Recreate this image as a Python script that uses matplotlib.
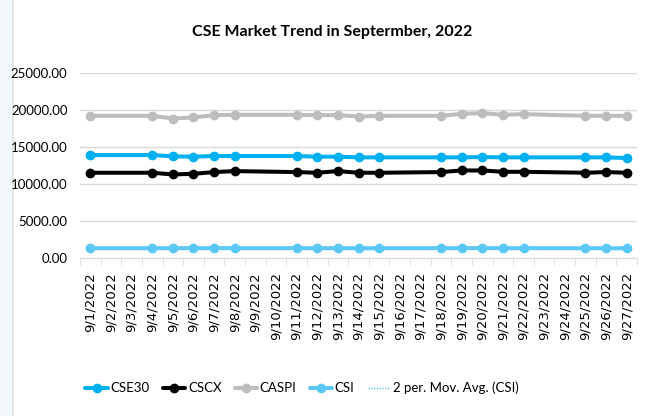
import numpy as np
import pandas as pd
import matplotlib
matplotlib.use("Agg")
import matplotlib.pyplot as plt
from matplotlib.lines import Line2D

# trading days in September 2022 (day of month)
days = [1, 4, 5, 6, 7, 8, 11, 12, 13, 14, 15, 18, 19, 20, 21, 22, 25, 26, 27]
cse30 = [13910, 13910, 13740, 13690, 13780, 13780, 13780, 13690, 13690, 13600,
         13600, 13600, 13600, 13640, 13600, 13600, 13600, 13600, 13510]
cscx = [11520, 11520, 11290, 11380, 11610, 11740, 11610, 11520, 11740, 11520,
        11520, 11610, 11830, 11830, 11650, 11650, 11520, 11610, 11520]
caspi = [19210, 19210, 18850, 18990, 19300, 19350, 19350, 19300, 19300, 19120,
         19210, 19210, 19480, 19570, 19350, 19440, 19210, 19210, 19210]
csi = [1330, 1330, 1330, 1330, 1330, 1330, 1330, 1330, 1330, 1320,
       1320, 1330, 1330, 1340, 1330, 1330, 1320, 1320, 1320]
date_labels = [f"9/{d}/2022" for d in range(1, 28)]

plt.rcParams['font.family'] = ['Lato', 'DejaVu Sans']

fig = plt.figure(figsize=(6.51, 4.16), dpi=100)
fig.patch.set_facecolor('white')
# pale slide background on the left edge
fig.patches.append(plt.Rectangle((0, 0), 13 / 651, 1, transform=fig.transFigure,
                                 facecolor='#f3f8fd', edgecolor='none', zorder=-2))
fig.lines.append(Line2D([13 / 651, 13 / 651], [0, 1], transform=fig.transFigure,
                        color='#e3e3e3', lw=1.2, zorder=-1))

ax = fig.add_axes([80 / 651, 1 - 258 / 416, 557 / 651, 185 / 416])
ax.set_facecolor('none')

kw = dict(lw=2.9, marker='o', markersize=6, solid_capstyle='round')
ax.plot(days, cse30, color='#00b0f0', label='CSE30', **kw)
ax.plot(days, cscx, color='#000000', label='CSCX', **kw)
ax.plot(days, caspi, color='#bdbdbd', label='CASPI', **kw)
ax.plot(days, csi, color='#5bc8f5', label='CSI', **kw)
mov = pd.Series(csi).rolling(2).mean()
ax.plot(days, mov, color='#5bc8f5', lw=1, ls=(0, (1, 1)), label='2 per. Mov. Avg. (CSI)')

ax.set_xlim(0.5, 27.5)
ax.set_ylim(0, 25000)
ax.set_yticks(np.arange(0, 25001, 5000))
ax.set_yticklabels([f"{v:.2f}" for v in np.arange(0, 25001, 5000)], fontsize=9.5)
ax.yaxis.grid(True, color='#d9d9d9', lw=1)
ax.set_axisbelow(True)

ax.set_xticks(range(1, 28))
ax.set_xticklabels(date_labels, rotation=90, fontsize=9.5, family='DejaVu Sans', va='top')
ax.set_xticks(np.arange(0.5, 28, 1), minor=True)
ax.tick_params(axis='x', which='major', length=0, pad=10)
ax.tick_params(axis='x', which='minor', length=5, color='#d9d9d9')
ax.tick_params(axis='y', length=0, pad=9)

for s in ['top', 'right', 'left']:
    ax.spines[s].set_visible(False)
ax.spines['bottom'].set_color('#d9d9d9')

fig.text(332 / 651, 1 - 32 / 416, 'CSE Market Trend in Septermber, 2022',
         ha='center', va='center', fontsize=11.5, fontweight='bold')

fig.legend(loc='center', bbox_to_anchor=(302 / 651, 1 - 388 / 416), ncol=5,
           frameon=False, fontsize=9.5, handlelength=1.7, handletextpad=0.2,
           columnspacing=1.0)

fig.savefig('out.png', dpi=100)
